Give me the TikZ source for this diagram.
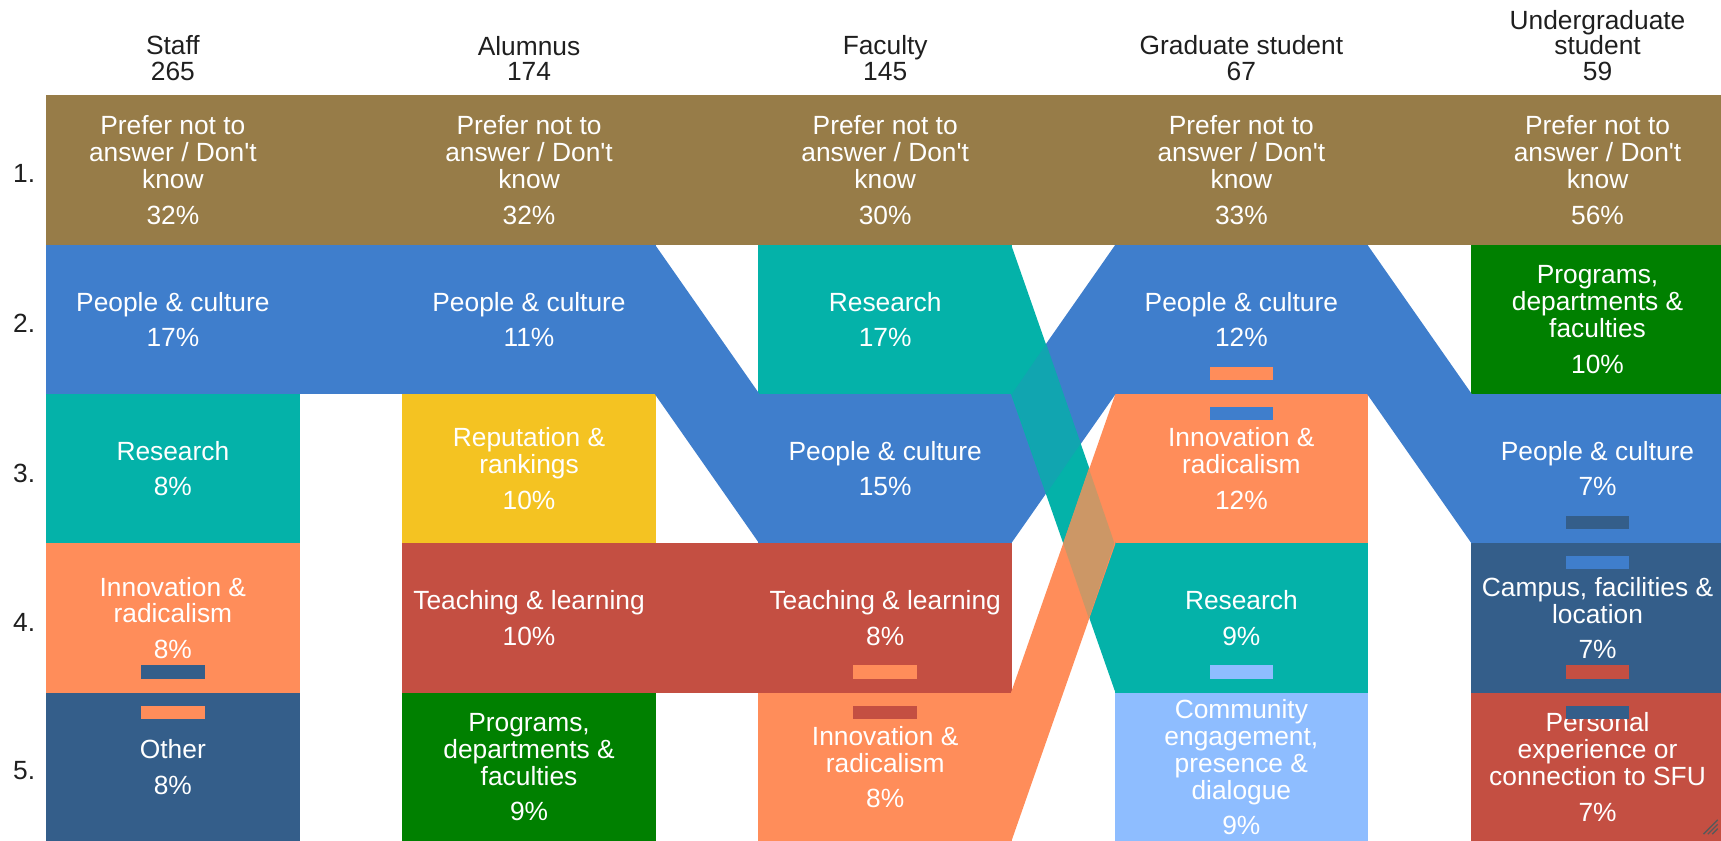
\documentclass[tikz,border=0pt]{standalone}
\usepackage{fontspec}
\usepackage{tikz}
\usetikzlibrary{calc}

\newfontfamily\chartfont{Liberation Sans}

\definecolor{cBrown}{HTML}{977C48}
\definecolor{cBlue}{HTML}{3F7ECC}
\definecolor{cTeal}{HTML}{04B2A9}
\definecolor{cOrange}{HTML}{FF8D5A}
\definecolor{cNavy}{HTML}{345E8A}
\definecolor{cYellow}{HTML}{F4C322}
\definecolor{cRed}{HTML}{C44F42}
\definecolor{cGreen}{HTML}{008000}
\definecolor{cSky}{HTML}{8EBDFF}
\definecolor{cTealBlue}{HTML}{11A5B0}
\definecolor{cTan}{HTML}{CC9766}

% band between the right side of one box and the left side of another
\newcommand{\flowband}[3]{\fill[#3] ([xshift=-1pt]#1.north east) -- ([xshift=1pt]#2.north west) -- ([xshift=1pt]#2.south west) -- ([xshift=-1pt]#1.south east) -- cycle;}
\newcommand{\flowclip}[2]{\clip (#1.north east) -- (#2.north west) -- (#2.south west) -- (#1.south east) -- cycle;}

\begin{document}
\begin{tikzpicture}[x=1pt,y=-1pt,
	cell/.style={minimum width=231pt, minimum height=136pt, inner sep=0pt, text=white, align=center, font=\chartfont\fontsize{24}{24.5}\selectfont},
	head/.style={anchor=south, inner sep=0pt, align=center, text=black!88, font=\chartfont\fontsize{24}{23}\selectfont},
	rank/.style={inner sep=0pt, text=black!88, font=\chartfont\fontsize{24}{24}\selectfont},
	tie/.style={minimum width=58pt, minimum height=12pt, inner sep=0pt}]
	%\draw[help lines] (0,0) grid[step=100] (1568,766);
	\useasboundingbox (0,0) rectangle (1568,766);

	\node[head] (hSt) at (157.5,73.5) {Staff\\265};
	\node[head] (hAl) at (482,73.5) {Alumnus\\174};
	\node[head] (hFa) at (806.5,73.5) {Faculty\\145};
	\node[head] (hGr) at (1131,73.5) {Graduate student\\67};
	\node[head] (hUg) at (1455.5,73.5) {Undergraduate\\student\\59};

	\node[rank] (r1) at (22,158) {1.};
	\node[rank] (r2) at (22,295) {2.};
	\node[rank] (r3) at (22,431) {3.};
	\node[rank] (r4) at (22,567) {4.};
	\node[rank] (r5) at (22,702) {5.};

	% Staff
	\node[cell, fill=cBrown] (st1) at (157.5,155) {Prefer not to\\answer / Don't\\know\\[8pt]32\%};
	\node[cell, fill=cBlue] (st2) at (157.5,291) {People \& culture\\[8pt]17\%};
	\node[cell, fill=cTeal] (st3) at (157.5,427) {Research\\[8pt]8\%};
	\node[cell, fill=cOrange] (st4) at (157.5,563) {Innovation \&\\radicalism\\[8pt]8\%};
	\node[cell, fill=cNavy] (st5) at (157.5,699) {Other\\[8pt]8\%};
	% Alumnus
	\node[cell, fill=cBrown] (al1) at (482,155) {Prefer not to\\answer / Don't\\know\\[8pt]32\%};
	\node[cell, fill=cBlue] (al2) at (482,291) {People \& culture\\[8pt]11\%};
	\node[cell, fill=cYellow] (al3) at (482,427) {Reputation \&\\rankings\\[8pt]10\%};
	\node[cell, fill=cRed] (al4) at (482,563) {Teaching \& learning\\[8pt]10\%};
	\node[cell, fill=cGreen] (al5) at (482,699) {Programs,\\departments \&\\faculties\\[8pt]9\%};
	% Faculty
	\node[cell, fill=cBrown] (fa1) at (806.5,155) {Prefer not to\\answer / Don't\\know\\[8pt]30\%};
	\node[cell, fill=cTeal] (fa2) at (806.5,291) {Research\\[8pt]17\%};
	\node[cell, fill=cBlue] (fa3) at (806.5,427) {People \& culture\\[8pt]15\%};
	\node[cell, fill=cRed] (fa4) at (806.5,563) {Teaching \& learning\\[8pt]8\%};
	\node[cell, fill=cOrange] (fa5) at (806.5,699) {Innovation \&\\radicalism\\[8pt]8\%};
	% Graduate student
	\node[cell, fill=cBrown] (gr1) at (1131,155) {Prefer not to\\answer / Don't\\know\\[8pt]33\%};
	\node[cell, fill=cBlue] (gr2) at (1131,291) {People \& culture\\[8pt]12\%};
	\node[cell, fill=cOrange] (gr3) at (1131,427) {Innovation \&\\radicalism\\[8pt]12\%};
	\node[cell, fill=cTeal] (gr4) at (1131,563) {Research\\[8pt]9\%};
	\node[cell, fill=cSky] (gr5) at (1131,699) {Community\\engagement,\\presence \&\\dialogue\\[8pt]9\%};
	% Undergraduate student
	\node[cell, fill=cBrown] (ug1) at (1455.5,155) {Prefer not to\\answer / Don't\\know\\[8pt]56\%};
	\node[cell, fill=cGreen] (ug2) at (1455.5,291) {Programs,\\departments \&\\faculties\\[8pt]10\%};
	\node[cell, fill=cBlue] (ug3) at (1455.5,427) {People \& culture\\[8pt]7\%};
	\node[cell, fill=cNavy] (ug4) at (1455.5,563) {Campus, facilities \&\\location\\[8pt]7\%};
	\node[cell, fill=cRed] (ug5) at (1455.5,699) {Personal\\experience or\\connection to SFU\\[8pt]7\%};

	% bands
	\flowband{st1}{al1}{cBrown}
	\flowband{al1}{fa1}{cBrown}
	\flowband{fa1}{gr1}{cBrown}
	\flowband{gr1}{ug1}{cBrown}
	\flowband{st2}{al2}{cBlue}
	\flowband{al2}{fa3}{cBlue}
	\flowband{al4}{fa4}{cRed}
	\flowband{gr2}{ug3}{cBlue}
	\flowband{fa3}{gr2}{cBlue}
	\flowband{fa2}{gr4}{cTeal}
	\begin{scope}
		\flowclip{fa3}{gr2}
		\fill[cTealBlue] (fa2.north east) -- (gr4.north west) -- (gr4.south west) -- (fa2.south east) -- cycle;
	\end{scope}
	\flowband{fa5}{gr3}{cOrange}
	\begin{scope}
		\flowclip{fa2}{gr4}
		\fill[cTan] (fa5.north east) -- (gr3.north west) -- (gr3.south west) -- (fa5.south east) -- cycle;
	\end{scope}

	% ties
	\node[tie, fill=cNavy] (t1) at ($(st4.south)+(0,-19)$) {};
	\node[tie, fill=cOrange] (t2) at ($(st5.north)+(0,18)$) {};
	\node[tie, fill=cOrange] (t3) at ($(fa4.south)+(0,-19)$) {};
	\node[tie, fill=cRed] (t4) at ($(fa5.north)+(0,18)$) {};
	\node[tie, fill=cOrange] (t5) at ($(gr2.south)+(0,-19)$) {};
	\node[tie, fill=cBlue] (t6) at ($(gr3.north)+(0,18)$) {};
	\node[tie, fill=cSky] (t7) at ($(gr4.south)+(0,-19)$) {};
	\node[tie, fill=cNavy] (t8) at ($(ug3.south)+(0,-19)$) {};
	\node[tie, fill=cBlue] (t9) at ($(ug4.north)+(0,18)$) {};
	\node[tie, fill=cRed] (t10) at ($(ug4.south)+(0,-19)$) {};
	\node[tie, fill=cNavy] (t11) at ($(ug5.north)+(0,18)$) {};

	% resize grip
	\draw[black!65, line width=1.2pt] (1552,760) -- (1565,747) (1556,760) -- (1565,751) (1560,760) -- (1565,755);
\end{tikzpicture}
\end{document}
